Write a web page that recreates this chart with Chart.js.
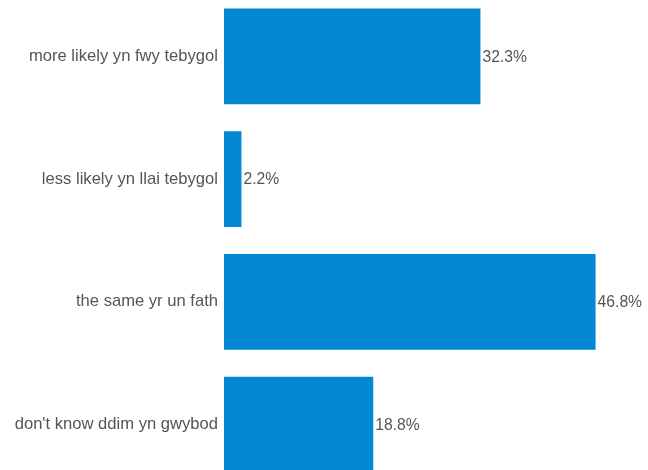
<!DOCTYPE html>
<html>
<head>
<meta charset="utf-8">
<script src="https://cdn.jsdelivr.net/npm/chart.js@4"></script>
<style>
  html, body { margin: 0; padding: 0; background: #fff; overflow: hidden; }
  #wrap { position: absolute; left: 0; top: -5px; width: 648px; height: 491px; }
</style>
</head>
<body>
<div id="wrap"><canvas id="chart" width="648" height="491"></canvas></div>
<script>
// Survey answers and their shares (%)
const categories = [
  "more likely yn fwy tebygol",
  "less likely yn llai tebygol",
  "the same yr un fath",
  "don't know ddim yn gwybod"
];
const shares = [32.3, 2.2, 46.8, 18.8];

const FAMILY = "'Liberation Sans', Arial, Helvetica, sans-serif";
const TEXT_COLOR = '#555555';

// Writes each bar's value just past its end
const valueLabels = {
  id: 'valueLabels',
  afterDatasetsDraw(chart) {
    const ctx = chart.ctx;
    const meta = chart.getDatasetMeta(0);
    ctx.save();
    ctx.font = '15.7px ' + FAMILY;
    ctx.fillStyle = TEXT_COLOR;
    ctx.textAlign = 'left';
    ctx.textBaseline = 'middle';
    meta.data.forEach((bar, i) => {
      ctx.fillText(shares[i].toFixed(1) + '%', bar.x + 2, bar.y + 1);
    });
    ctx.restore();
  }
};

new Chart(document.getElementById('chart'), {
  type: 'bar',
  data: {
    labels: categories,
    datasets: [{
      data: shares,
      backgroundColor: '#0588d3',
      borderWidth: 0,
      categoryPercentage: 1,
      barPercentage: 0.78
    }]
  },
  options: {
    indexAxis: 'y',
    responsive: false,
    animation: false,
    layout: { padding: { left: 0, right: 27, top: 0, bottom: 0 } },
    plugins: { legend: { display: false }, tooltip: { enabled: false } },
    scales: {
      x: { display: false, min: 0, max: 50 },
      y: {
        grid: { display: false, drawTicks: false },
        border: { display: false },
        ticks: { color: TEXT_COLOR, font: { family: FAMILY, size: 16.6 }, padding: 6 },
        afterFit(scale) {
          scale.width = 224;
          scale.paddingTop = 0;
          scale.paddingBottom = 0;
        }
      }
    }
  },
  plugins: [valueLabels]
});
</script>
</body>
</html>
